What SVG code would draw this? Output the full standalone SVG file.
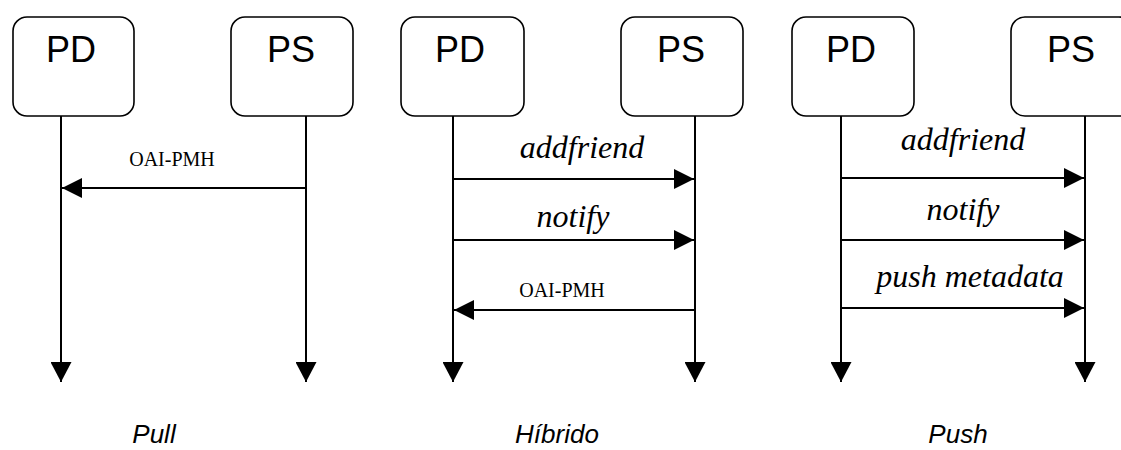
<svg xmlns="http://www.w3.org/2000/svg" width="1121" height="450" viewBox="0 0 1121 450">
  <style>
    .box { fill: #ffffff; stroke: #000000; stroke-width: 1.6; }
    .name { font-family: "Liberation Sans", Arial, sans-serif; font-size: 36px; fill: #000000; text-anchor: middle; }
    .life { stroke: #000000; stroke-width: 2; fill: none; }
    .msg { stroke: #000000; stroke-width: 2; fill: none; marker-end: url(#head); }
    .op { font-family: "Liberation Serif", "Times New Roman", serif; font-style: italic; font-size: 32px; fill: #000000; text-anchor: middle; }
    .proto { font-family: "Liberation Serif", "Times New Roman", serif; font-size: 20px; fill: #000000; text-anchor: middle; }
    .title { font-family: "Liberation Sans", Arial, sans-serif; font-style: italic; font-size: 26px; fill: #000000; text-anchor: middle; }
  </style>
  <defs>
    <marker id="head" viewBox="0 0 20 20" refX="20" refY="10" markerWidth="20" markerHeight="20" markerUnits="userSpaceOnUse" orient="auto">
      <path d="M0,0 L20,10 L0,20 Z" fill="#000000"/>
    </marker>
    <marker id="end" viewBox="0 0 20 21" refX="20" refY="10.5" markerWidth="20" markerHeight="21" markerUnits="userSpaceOnUse" orient="auto">
      <path d="M0,0 L20,10.5 L0,21 Z" fill="#000000"/>
    </marker>
  </defs>

  <rect width="1121" height="450" fill="#ffffff"/>

  <!-- Pull: participants -->
  <g id="pull-pd">
    <rect class="box" x="13" y="17" width="121" height="99" rx="14"/>
    <text class="name" x="71" y="62">PD</text>
  </g>
  <g id="pull-ps">
    <rect class="box" x="231" y="17" width="122" height="99" rx="14"/>
    <text class="name" x="291" y="62">PS</text>
  </g>

  <!-- Híbrido: participants -->
  <g id="hib-pd">
    <rect class="box" x="401" y="17" width="123" height="99" rx="14"/>
    <text class="name" x="460" y="62">PD</text>
  </g>
  <g id="hib-ps">
    <rect class="box" x="621" y="17" width="122" height="99" rx="14"/>
    <text class="name" x="681" y="62">PS</text>
  </g>

  <!-- Push: participants -->
  <g id="push-pd">
    <rect class="box" x="792" y="17" width="122" height="99" rx="14"/>
    <text class="name" x="851" y="62">PD</text>
  </g>
  <g id="push-ps">
    <rect class="box" x="1011" y="17" width="122" height="99" rx="14"/>
    <text class="name" x="1071" y="62">PS</text>
  </g>

  <!-- lifelines and messages -->
  <g id="connectors">
    <line class="life" x1="61" y1="116" x2="61" y2="382" marker-end="url(#end)"/>
    <line class="life" x1="306" y1="116" x2="306" y2="382" marker-end="url(#end)"/>
    <line class="life" x1="453" y1="116" x2="453" y2="382" marker-end="url(#end)"/>
    <line class="life" x1="695" y1="116" x2="695" y2="382" marker-end="url(#end)"/>
    <line class="life" x1="841" y1="116" x2="841" y2="382" marker-end="url(#end)"/>
    <line class="life" x1="1085" y1="116" x2="1085" y2="382" marker-end="url(#end)"/>

    <!-- Pull -->
    <line class="msg" x1="306" y1="188" x2="62" y2="188"/>
    <text class="proto" x="172" y="166">OAI-PMH</text>

    <!-- Híbrido -->
    <line class="msg" x1="453" y1="179" x2="694" y2="179"/>
    <text class="op" x="582" y="158">addfriend</text>
    <line class="msg" x1="453" y1="240" x2="694" y2="240"/>
    <text class="op" x="573" y="227">notify</text>
    <line class="msg" x1="695" y1="310" x2="454" y2="310"/>
    <text class="proto" x="562" y="297">OAI-PMH</text>

    <!-- Push -->
    <line class="msg" x1="841" y1="178" x2="1084" y2="178"/>
    <text class="op" x="963" y="150">addfriend</text>
    <line class="msg" x1="841" y1="240" x2="1084" y2="240"/>
    <text class="op" x="963" y="220">notify</text>
    <line class="msg" x1="841" y1="308" x2="1084" y2="308"/>
    <text class="op" x="970" y="287">push metadata</text>
  </g>

  <!-- scenario captions -->
  <text class="title" x="154" y="443">Pull</text>
  <text class="title" x="557" y="443">Híbrido</text>
  <text class="title" x="958" y="443">Push</text>
</svg>
